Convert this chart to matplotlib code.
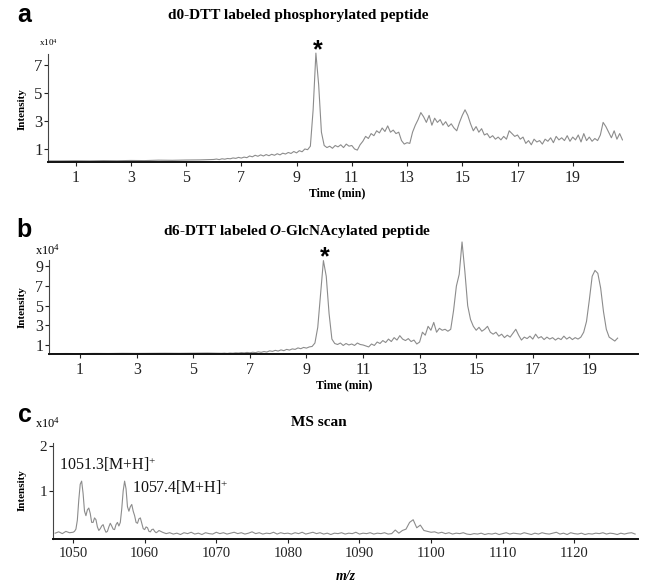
import numpy as np
import matplotlib
matplotlib.use("Agg")
import matplotlib.pyplot as plt

plt.rcParams['font.family'] = ['Liberation Serif', 'DejaVu Serif']
plt.rcParams['mathtext.fontset'] = 'custom'
plt.rcParams['mathtext.rm'] = 'Liberation Serif'
plt.rcParams['mathtext.it'] = 'Liberation Serif:italic'
plt.rcParams['mathtext.bf'] = 'Liberation Serif:bold'
plt.rcParams['mathtext.bfit'] = 'Liberation Serif:bold:italic'

# ---- panel a: d0-DTT chromatogram (intensity x10^4) ----
a_base_time = np.linspace(0.0, 5.5, 12)
a_base_int = [0.15, 0.15, 0.16, 0.15, 0.17, 0.16, 0.18, 0.17, 0.20, 0.19, 0.21, 0.22]
a_time = np.linspace(6.0, 20.8, 149)
a_int = [0.25, 0.28, 0.24, 0.30, 0.27, 0.32, 0.30, 0.36, 0.33, 0.40,
         0.35, 0.42, 0.38, 0.50, 0.44, 0.55, 0.48, 0.58, 0.50, 0.60,
         0.52, 0.62, 0.55, 0.66, 0.58, 0.70, 0.64, 0.75, 0.68, 0.82,
         0.72, 0.88, 0.80, 1.00, 0.95, 1.20, 3.80, 7.85, 5.60, 2.20,
         1.25, 1.10, 1.20, 1.05, 1.25, 1.15, 1.30, 1.10, 1.35, 1.20,
         1.25, 1.00, 0.92, 1.30, 1.55, 1.90, 1.75, 2.10, 1.95, 2.30,
         2.15, 2.50, 2.25, 2.65, 2.20, 2.35, 2.10, 2.20, 1.60, 1.35,
         1.45, 1.40, 2.20, 2.70, 3.10, 3.60, 3.30, 2.90, 3.40, 2.70,
         3.20, 2.90, 3.10, 2.70, 2.95, 2.60, 2.80, 2.50, 2.30, 2.90,
         3.40, 3.80, 3.40, 2.80, 2.30, 2.60, 2.20, 2.45, 2.00, 2.10,
         1.80, 1.95, 1.70, 1.85, 1.65, 1.90, 1.70, 2.30, 2.10, 1.90,
         2.00, 1.70, 1.85, 1.40, 1.60, 1.30, 1.70, 1.50, 1.60, 1.35,
         1.70, 1.55, 1.80, 1.45, 1.90, 1.65, 1.80, 1.60, 1.95, 1.55,
         1.85, 1.65, 2.00, 1.50, 2.10, 1.60, 1.85, 1.55, 1.75, 1.60,
         2.00, 2.90, 2.60, 2.20, 1.80, 2.30, 1.70, 2.10, 1.65]

# ---- panel b: d6-DTT chromatogram (intensity x10^4) ----
b_base_time = np.linspace(0.0, 5.5, 12)
b_base_int = [0.12, 0.13, 0.12, 0.14, 0.13, 0.15, 0.14, 0.15, 0.16, 0.15, 0.17, 0.18]
b_time = np.linspace(6.0, 20.0, 141)
b_int = [0.15, 0.17, 0.14, 0.18, 0.16, 0.20, 0.18, 0.22, 0.19, 0.24,
         0.20, 0.26, 0.22, 0.30, 0.25, 0.33, 0.28, 0.40, 0.35, 0.45,
         0.38, 0.50, 0.42, 0.55, 0.48, 0.60, 0.55, 0.70, 0.62, 0.75,
         0.68, 0.80, 0.85, 1.20, 2.80, 6.20, 9.60, 8.00, 4.20, 1.60,
         1.15, 1.05, 1.20, 0.95, 1.15, 1.00, 1.10, 0.95, 1.20, 1.05,
         1.00, 0.90, 0.80, 1.10, 0.95, 1.30, 1.15, 1.45, 1.25, 1.60,
         1.35, 1.75, 1.50, 1.95, 1.60, 1.45, 1.65, 1.35, 1.50, 1.10,
         1.30, 2.30, 2.00, 2.90, 2.50, 3.30, 2.30, 2.70, 2.50, 2.60,
         2.40, 2.60, 4.50, 7.00, 8.20, 11.50, 8.50, 5.00, 3.60, 2.90,
         2.50, 2.80, 2.40, 2.60, 2.90, 2.30, 2.10, 2.30, 1.90, 2.10,
         1.75, 2.00, 1.80, 2.20, 2.60, 2.00, 1.50, 1.80, 1.65, 1.90,
         1.60, 2.10, 1.70, 1.85, 1.55, 1.80, 1.60, 1.75, 1.50, 1.70,
         1.55, 1.90, 1.60, 1.80, 1.55, 1.75, 1.60, 1.80, 2.30, 3.40,
         5.60, 8.00, 8.60, 8.30, 6.80, 4.40, 2.60, 1.80, 1.60, 1.40,
         1.70]

# ---- panel c: MS scan (intensity x10^4) ----
c_mz_lo = np.linspace(1047.5, 1049.5, 5)
c_int_lo = [0.06, 0.09, 0.05, 0.10, 0.07]
c_mz_pk = np.linspace(1050.0, 1062.0, 61)
c_int_pk = [0.08, 0.10, 0.15, 0.35, 0.80, 1.15, 1.22, 0.95, 0.55, 0.45,
            0.58, 0.62, 0.50, 0.30, 0.30, 0.40, 0.36, 0.20, 0.12, 0.16,
            0.22, 0.25, 0.15, 0.08, 0.10, 0.20, 0.28, 0.22, 0.15, 0.14,
            0.25, 0.30, 0.22, 0.30, 0.60, 1.00, 1.22, 1.05, 0.65, 0.55,
            0.65, 0.70, 0.55, 0.45, 0.30, 0.28, 0.38, 0.40, 0.28, 0.16,
            0.14, 0.20, 0.18, 0.10, 0.09, 0.14, 0.15, 0.10, 0.07, 0.09,
            0.12]
c_mz_hi = np.linspace(1062.5, 1128.5, 133)
c_int_hi = [0.08, 0.05, 0.07, 0.04, 0.06, 0.03, 0.07, 0.05, 0.08, 0.04,
            0.06, 0.03, 0.07, 0.05, 0.04, 0.08, 0.05, 0.07, 0.04, 0.06,
            0.08, 0.05, 0.07, 0.04, 0.06, 0.09, 0.05, 0.07, 0.04, 0.06,
            0.05, 0.08, 0.04, 0.07, 0.05, 0.06, 0.04, 0.07, 0.05, 0.08,
            0.04, 0.06, 0.08, 0.05, 0.07, 0.04, 0.06, 0.03, 0.06, 0.05,
            0.07, 0.04, 0.06, 0.05, 0.08, 0.04, 0.06, 0.05, 0.07, 0.04,
            0.06, 0.05, 0.07, 0.04, 0.05, 0.13, 0.06, 0.12, 0.15, 0.30,
            0.36, 0.18, 0.24, 0.12, 0.10, 0.08, 0.09, 0.06, 0.08, 0.05,
            0.07, 0.04, 0.06, 0.05, 0.07, 0.04, 0.03, 0.05, 0.04, 0.06,
            0.03, 0.05, 0.04, 0.06, 0.03, 0.05, 0.07, 0.04, 0.06, 0.05,
            0.04, 0.07, 0.05, 0.03, 0.06, 0.04, 0.07, 0.05, 0.04, 0.06,
            0.08, 0.04, 0.06, 0.03, 0.07, 0.05, 0.04, 0.06, 0.03, 0.05,
            0.04, 0.06, 0.05, 0.07, 0.04, 0.06, 0.05, 0.03, 0.06, 0.04,
            0.06, 0.07, 0.04]

time_ticks = [1, 3, 5, 7, 9, 11, 13, 15, 17, 19]
a_yticks = [1, 3, 5, 7]
b_yticks = [1, 3, 5, 7, 9]
c_yticks = [1, 2]
c_xticks = [1050, 1060, 1070, 1080, 1090, 1100, 1110, 1120]

title_a = "d0-DTT labeled phosphorylated peptide"
title_b = r"d6-DTT labeled $\mathbfit{O}$-GlcNAcylated peptide"
title_c = "MS scan"
peak_labels = [r"1051.3[M+H]$^{+}$", r"1057.4[M+H]$^{+}$"]

W, H = 646, 585
LINE = '#8c8c8c'


def fx(px):
    return px / W


def fy(py):
    return 1 - py / H


def box(left, top, right, bottom):
    return [fx(left), fy(bottom), (right - left) / W, (bottom - top) / H]


def style_axis(ax, xlim, ylim, spine_top, xticks, yticks, xsize, ysize):
    ax.set_xlim(*xlim)
    ax.set_ylim(*ylim)
    for s in ('top', 'right'):
        ax.spines[s].set_visible(False)
    ax.spines['bottom'].set_linewidth(1.4)
    ax.spines['bottom'].set_color('#111111')
    ax.spines['left'].set_linewidth(0.8)
    ax.spines['left'].set_color('#444444')
    ax.spines['left'].set_bounds(ylim[0], spine_top)
    ax.set_xticks(xticks)
    ax.set_yticks(yticks)
    ax.tick_params(axis='x', direction='out', length=3, width=0.8,
                   pad=2.5, labelsize=xsize, colors='#222222')
    ax.tick_params(axis='y', direction='out', length=3, width=0.8,
                   pad=1, labelsize=ysize, colors='#222222')
    ax.patch.set_visible(False)


fig = plt.figure(figsize=(W / 100, H / 100), dpi=100)

# panel a
ax_a = fig.add_axes(box(48, 51, 623, 162))
ta = np.concatenate([a_base_time, a_time])
ia = np.concatenate([a_base_int, a_int])
ax_a.plot(ta, ia, color=LINE, lw=0.8)
style_axis(ax_a, (0, 20.82), (0.07, 8.0), 7.8, time_ticks, a_yticks, 11.5, 12)
k = int(np.argmax(ia))
ax_a.annotate('*', xy=(ta[k], ia[k]), xytext=(2, -4), textcoords='offset pixels',
              ha='center', va='baseline', fontsize=18, fontweight='bold',
              family='Liberation Sans')

# panel b
ax_b = fig.add_axes(box(49, 240, 638, 354))
tb = np.concatenate([b_base_time, b_time])
ib = np.concatenate([b_base_int, b_int])
ax_b.plot(tb, ib, color=LINE, lw=0.8)
style_axis(ax_b, (-0.1, 20.72), (0.08, 11.7), 9.7, time_ticks, b_yticks, 11.5, 11.5)
first = tb < 12
k = int(np.argmax(np.where(first, ib, 0)))
ax_b.annotate('*', xy=(tb[k], ib[k]), xytext=(1, -4), textcoords='offset pixels',
              ha='center', va='baseline', fontsize=18, fontweight='bold',
              family='Liberation Sans')

# panel c
ax_c = fig.add_axes(box(53, 443, 638, 539))
mz = np.concatenate([c_mz_lo, c_mz_pk, c_mz_hi])
ic = np.concatenate([c_int_lo, c_int_pk, c_int_hi])
ax_c.plot(mz, ic, color=LINE, lw=0.8)
style_axis(ax_c, (1047.2, 1128.9), (-0.07, 2.07), 2.07, c_xticks, c_yticks, 10.5, 11)
for (lo, hi), label, off in zip([(1049, 1054), (1056, 1059)], peak_labels,
                                [(-23, 11), (7, -12)]):
    sel = (mz >= lo) & (mz <= hi)
    j = int(np.argmax(np.where(sel, ic, 0)))
    ax_c.annotate(label, xy=(mz[j], ic[j]), xytext=off, textcoords='offset pixels',
                  ha='left', va='baseline', fontsize=11.5, color='#111111')

# titles, panel letters, axis labels
fig.text(fx(298), fy(15), title_a, ha='center', va='center', fontsize=11, fontweight='bold')
fig.text(fx(297), fy(232), title_b, ha='center', va='center', fontsize=11, fontweight='bold')
fig.text(fx(319), fy(422), title_c, ha='center', va='center', fontsize=11, fontweight='bold')

for letter, px, py in [('a', 24, 15), ('b', 24, 230), ('c', 25, 415)]:
    fig.text(fx(px), fy(py), letter, ha='center', va='center', fontsize=18,
             fontweight='bold', family='Liberation Sans')

fig.text(fx(39), fy(43), r"x10$^{4}$", ha='left', va='center', fontsize=6.5)
fig.text(fx(35), fy(250), r"x10$^{4}$", ha='left', va='center', fontsize=9)
fig.text(fx(35), fy(423), r"x10$^{4}$", ha='left', va='center', fontsize=9)

for py in (109, 307, 490):
    fig.text(fx(22), fy(py), "Intensity", ha='center', va='center', rotation=90,
             fontsize=8, fontweight='bold')

fig.text(fx(337), fy(193), "Time (min)", ha='center', va='center', fontsize=8.5, fontweight='bold')
fig.text(fx(344), fy(385), "Time (min)", ha='center', va='center', fontsize=8.5, fontweight='bold')
fig.text(fx(346), fy(577), "m/z", ha='center', va='center', fontsize=10,
         fontweight='bold', fontstyle='italic')

fig.savefig("out.png", dpi=100, facecolor='white')
